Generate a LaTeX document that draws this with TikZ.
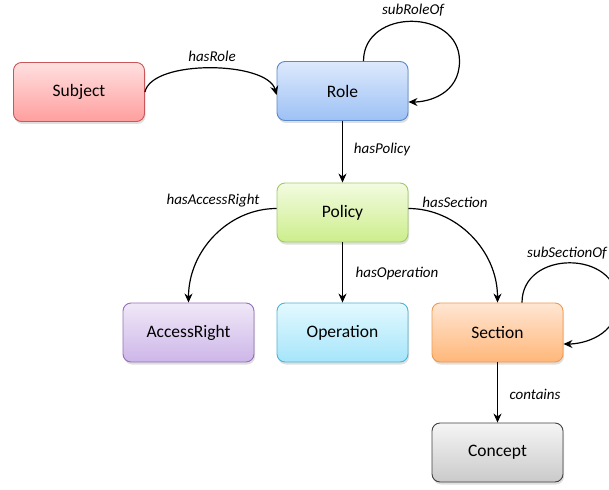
\documentclass[tikz,border=0pt]{standalone}
\usepackage{fontspec}
\setmainfont{Carlito}
\usetikzlibrary{arrows.meta,shadows,calc}
\definecolor{subjTop}{HTML}{FFE0E0}
\definecolor{subjBot}{HTML}{FF9E9E}
\definecolor{subjLine}{HTML}{C9575A}
\definecolor{roleTop}{HTML}{DDE9FC}
\definecolor{roleBot}{HTML}{9DC1F5}
\definecolor{roleLine}{HTML}{5A89CC}
\definecolor{polTop}{HTML}{F3FBE0}
\definecolor{polBot}{HTML}{CCEE8C}
\definecolor{polLine}{HTML}{A3C86C}
\definecolor{accTop}{HTML}{F0E8F8}
\definecolor{accBot}{HTML}{CDB6E8}
\definecolor{accLine}{HTML}{9272B6}
\definecolor{opTop}{HTML}{E3F9FF}
\definecolor{opBot}{HTML}{A6E5FA}
\definecolor{opLine}{HTML}{52B2D0}
\definecolor{secTop}{HTML}{FFE6D2}
\definecolor{secBot}{HTML}{FFB77A}
\definecolor{secLine}{HTML}{EE9A50}
\definecolor{conTop}{HTML}{F5F5F5}
\definecolor{conBot}{HTML}{CACACA}
\definecolor{conLine}{HTML}{404040}
\begin{document}
\begin{tikzpicture}[x=1pt,y=-1pt,
  box/.style={rounded corners=8pt, minimum width=131pt, minimum height=59pt,
    draw, line width=0.9pt, inner sep=0pt,
    font=\fontsize{17.5}{20}\selectfont,
    drop shadow={shadow xshift=1pt,shadow yshift=-2.5pt,opacity=0.25}},
  lbl/.style={font=\fontsize{15}{18}\selectfont\itshape, inner sep=0pt},
  arr/.style={-{Stealth[length=9pt,width=8pt]}, line width=1.2pt}]
\useasboundingbox (0,0) rectangle (609,489);

\node[box, draw=subjLine, top color=subjTop, bottom color=subjBot] (subject) at (79,92) {Subject};
\node[box, draw=roleLine, top color=roleTop, bottom color=roleBot] (role) at (342.5,91) {Role};
\node[box, draw=polLine, top color=polTop, bottom color=polBot] (policy) at (342.5,212.5) {Policy};
\node[box, draw=accLine, top color=accTop, bottom color=accBot] (accessright) at (188.5,332.5) {AccessRight};
\node[box, draw=opLine, top color=opTop, bottom color=opBot] (operation) at (342.5,332.5) {Operation};
\node[box, draw=secLine, top color=secTop, bottom color=secBot] (section) at (497.5,332.5) {Section};
\node[box, draw=conLine, top color=conTop, bottom color=conBot] (concept) at (497.5,452.5) {Concept};

% edges
\draw[arr] (subject.east) .. controls +(7,-33) and +(-9,-34) .. ($(role.west)+(0,4)$);
\draw[arr] ($(role.north)+(21,0)$) .. controls +(0,-53) and +(0,-53) .. ($(role.north)+(117,0)$)
   .. controls +(0,33) and +(20,0) .. ($(role.east)+(0,11)$);
\draw[arr] (role.south) -- (policy.north);
\draw[arr] ($(policy.west)+(0,-4)$) .. controls +(-48,0) and +(0,-52) .. (accessright.north);
\draw[arr] (policy.south) -- (operation.north);
\draw[arr] ($(policy.east)+(0,-4)$) .. controls +(48,0) and +(0,-52) .. (section.north);
\draw[arr] ($(section.north)+(24.5,0)$) .. controls +(0,-53) and +(0,-53) .. ($(section.north)+(120,0)$)
   .. controls +(0,33) and +(20,0) .. ($(section.east)+(0,11.5)$);
\draw[arr] (section.south) -- (concept.north);

% labels
\node[lbl] (lRole) at (212,56) {hasRole};
\node[lbl] (lSubRole) at (413,10) {subRoleOf};
\node[lbl] (lPolicy) at (382,150) {hasPolicy};
\node[lbl] (lAccess) at (213,201) {hasAccessRight};
\node[lbl] (lSection) at (455,202) {hasSection};
\node[lbl] (lOperation) at (397,273) {hasOperation};
\node[lbl] (lSubSection) at (567,253) {subSectionOf};
\node[lbl] (lContains) at (535,394) {contains};
\end{tikzpicture}
\end{document}
